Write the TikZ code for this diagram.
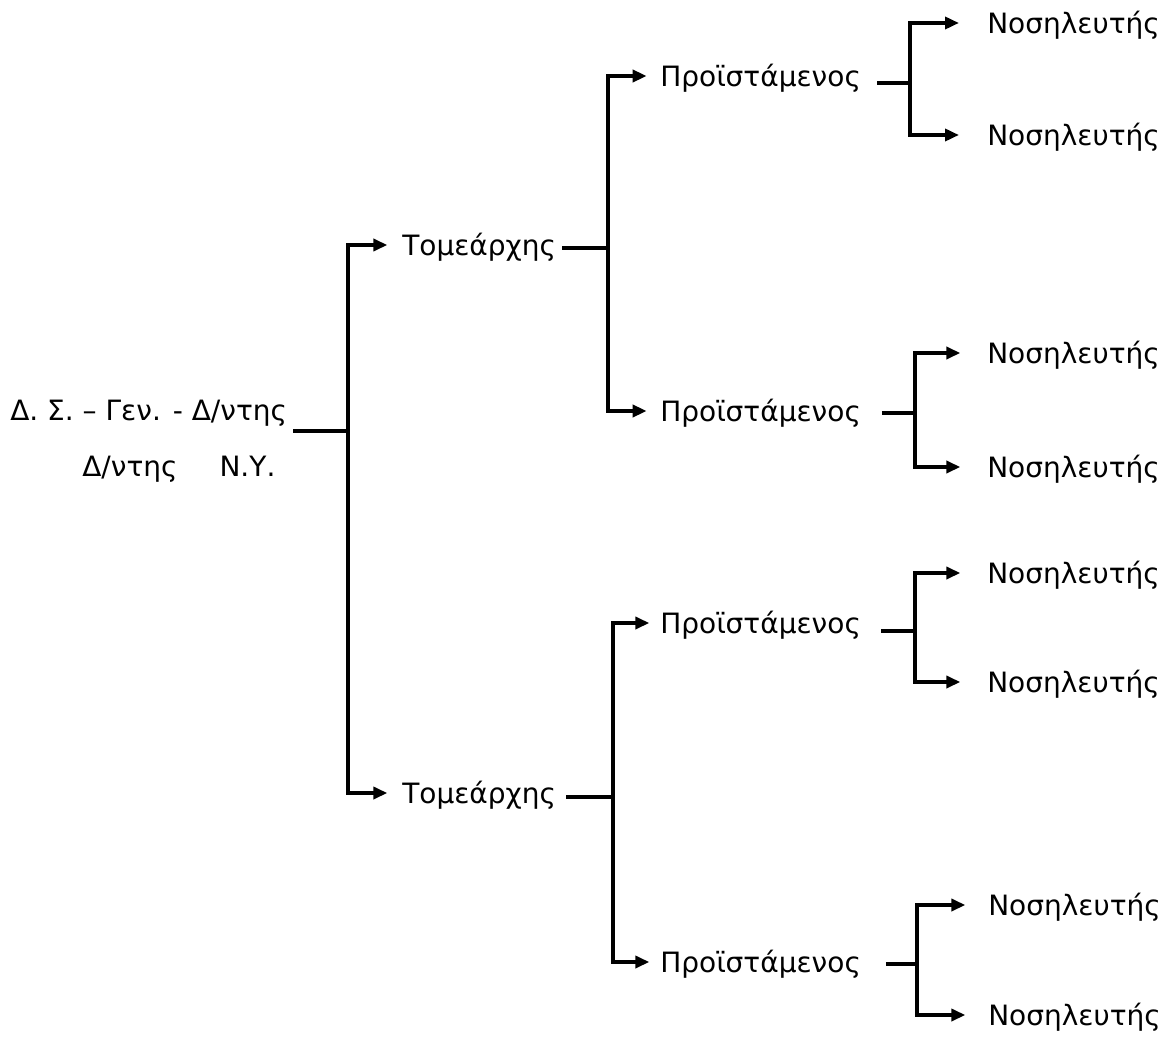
\documentclass[tikz,border=0pt]{standalone}
\usepackage{fontspec}
\setmainfont{DejaVu Sans}
\usetikzlibrary{arrows.meta}
\begin{document}
\begin{tikzpicture}[x=0.75pt,y=-0.75pt,
  lbl/.style={anchor=west,inner sep=0pt,text height=15.3pt,text depth=0pt,font=\fontsize{21}{25}\selectfont},
  ln/.style={line width=3pt},
  arr/.style={line width=3pt,-{Triangle[length=10.5pt,width=9pt]}}]
\useasboundingbox (0,0) rectangle (1169,1037);
% texts
\node[lbl] (root) at (10,410) {Δ. Σ. – Γεν. - Δ/ντης};
\node[lbl] (rootb) at (82,466) {Δ/ντης\hspace{1.5em}Ν.Υ.};
\node[lbl] (t1) at (402,245) {Τομεάρχης};
\node[lbl] (t2) at (402,793) {Τομεάρχης};
\node[lbl] (p1) at (660,76) {Προϊστάμενος};
\node[lbl] (p2) at (660,411) {Προϊστάμενος};
\node[lbl] (p3) at (660,623) {Προϊστάμενος};
\node[lbl] (p4) at (660,962) {Προϊστάμενος};
\node[lbl] (n1a) at (987,23) {Νοσηλευτής};
\node[lbl] (n1b) at (987,135) {Νοσηλευτής};
\node[lbl] (n2a) at (987,353) {Νοσηλευτής};
\node[lbl] (n2b) at (987,467) {Νοσηλευτής};
\node[lbl] (n3a) at (987,573) {Νοσηλευτής};
\node[lbl] (n3b) at (987,682) {Νοσηλευτής};
\node[lbl] (n4a) at (988,905) {Νοσηλευτής};
\node[lbl] (n4b) at (988,1015) {Νοσηλευτής};
% junctions
\coordinate (j0) at (348,431);
\coordinate (j1) at (608,248);
\coordinate (j2) at (613,797);
\coordinate (k1) at (910,83);
\coordinate (k2) at (915,413);
\coordinate (k3) at (915,631);
\coordinate (k4) at (917,964);
% root
\draw[ln,shorten <=4.5pt] (root.east |- j0) -- (j0);
\draw[arr,shorten >=11pt] (j0) |- (t1.west);
\draw[arr,shorten >=11pt] (j0) |- (t2.west);
% level 2
\draw[ln,shorten <=4.5pt] (t1.east |- j1) -- (j1);
\draw[arr,shorten >=10pt] (j1) |- (p1.west);
\draw[arr,shorten >=10pt] (j1) |- (p2.west);
\draw[ln,shorten <=7.5pt] (t2.east |- j2) -- (j2);
\draw[arr,shorten >=8pt] (j2) |- (p3.west);
\draw[arr,shorten >=8pt] (j2) |- (p4.west);
% level 3
\draw[ln,shorten <=12pt] (p1.east |- k1) -- (k1);
\draw[arr,shorten >=21pt] (k1) |- (n1a.west);
\draw[arr,shorten >=21pt] (k1) |- (n1b.west);
\draw[ln,shorten <=15.5pt] (p2.east |- k2) -- (k2);
\draw[arr,shorten >=20pt] (k2) |- (n2a.west);
\draw[arr,shorten >=20pt] (k2) |- (n2b.west);
\draw[ln,shorten <=15pt] (p3.east |- k3) -- (k3);
\draw[arr,shorten >=20pt] (k3) |- (n3a.west);
\draw[arr,shorten >=20pt] (k3) |- (n3b.west);
\draw[ln,shorten <=18.5pt] (p4.east |- k4) -- (k4);
\draw[arr,shorten >=17pt] (k4) |- (n4a.west);
\draw[arr,shorten >=17pt] (k4) |- (n4b.west);
\end{tikzpicture}
\end{document}
